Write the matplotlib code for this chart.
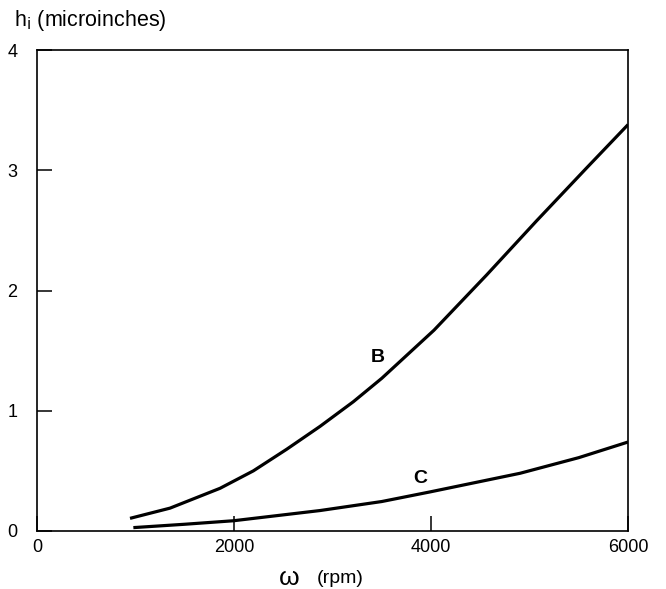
import numpy as np
import matplotlib
matplotlib.use('Agg')
import matplotlib.pyplot as plt

plt.rcParams['font.family'] = ['Liberation Sans', 'DejaVu Sans']

# curve B (rpm, microinches)
rpm_b = [944, 1350, 1858, 2196, 2535, 2873, 3211, 3500, 4030, 4565, 5072, 5580, 6000]
h_b = [0.105, 0.19, 0.355, 0.50, 0.68, 0.87, 1.075, 1.27, 1.67, 2.13, 2.58, 3.02, 3.38]

# curve C
rpm_c = [978, 1500, 1993, 2873, 3500, 3990, 4904, 5500, 6000]
h_c = [0.028, 0.056, 0.085, 0.17, 0.245, 0.325, 0.48, 0.61, 0.74]

xticks = [0, 2000, 4000, 6000]
yticks = [0, 1, 2, 3, 4]

f = plt.figure(figsize=(6.66, 5.89), dpi=100)
ax = f.add_axes([0.0556, 0.0985, 0.8874, 0.8165])

ax.plot(rpm_b, h_b, color='black', lw=2.3, solid_capstyle='butt', solid_joinstyle='round')
ax.plot(rpm_c, h_c, color='black', lw=2.3, solid_capstyle='butt', solid_joinstyle='round')

ax.text(3462, 1.44, 'B', fontsize=14, fontweight='bold', ha='center', va='center')
ax.text(3888, 0.44, 'C', fontsize=14, fontweight='bold', ha='center', va='center')

ax.set_xlim(0, 6000)
ax.set_ylim(0, 4)
ax.set_xticks(xticks)
ax.set_yticks(yticks)
ax.tick_params(direction='in', length=11, width=1.1, labelsize=13, pad=6)
ax.tick_params(axis='y', pad=14)
for s in ax.spines.values():
    s.set_linewidth(1.2)

f.text(0.021, 0.965, r'h$_{\rm i}$ (microinches)', fontsize=15.5, ha='left', va='center')
f.text(0.434, 0.018, '\u03c9', fontsize=19, ha='center', va='center')
f.text(0.475, 0.018, '(rpm)', fontsize=14, ha='left', va='center')

plt.savefig('out.png', dpi=100)
